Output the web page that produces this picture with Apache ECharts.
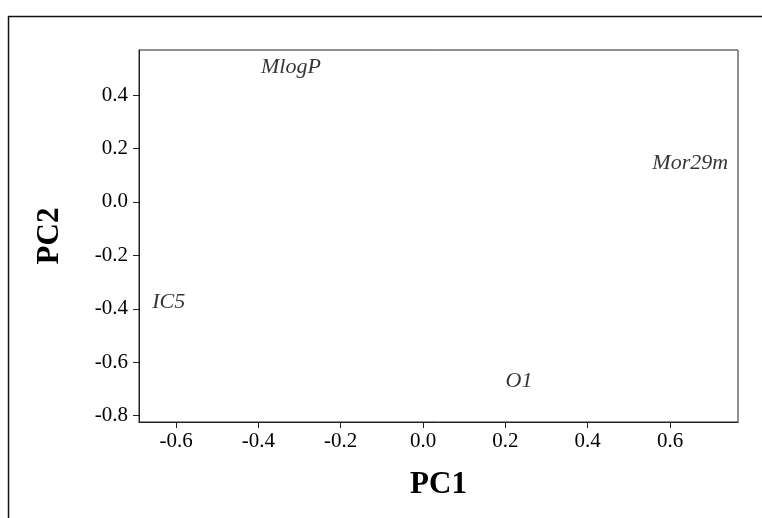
<!DOCTYPE html>
<html>
<head>
<meta charset="utf-8">
<script src="https://cdn.jsdelivr.net/npm/echarts@6/dist/echarts.min.js"></script>
<style>
html,body{margin:0;padding:0;background:#fff;}
#chart{width:762px;height:518px;}
</style>
</head>
<body>
<div id="chart"></div>
<script>
var variableNames = ['MlogP', 'Mor29m', 'IC5', 'O1'];
var pc1Values = [-0.321, 0.649, -0.618, 0.233];
var pc2Values = [0.505, 0.146, -0.377, -0.673];
var xTicks = [-0.6, -0.4, -0.2, 0.0, 0.2, 0.4, 0.6];
var yTicks = [-0.8, -0.6, -0.4, -0.2, 0.0, 0.2, 0.4];

var points = variableNames.map(function (n, i) {
  return { name: n, value: [pc1Values[i], pc2Values[i]] };
});

var chart = echarts.init(document.getElementById('chart'));
var tickFont = { fontFamily: 'Liberation Serif', fontSize: 21, color: '#000' };
chart.setOption({
  animation: false,
  backgroundColor: '#fff',
  graphic: [{
    type: 'rect', left: 6, top: 14,
    shape: { width: 800, height: 600 },
    style: { fill: 'none', stroke: '#111', lineWidth: 1.5 }
  }],
  grid: { left: 139, top: 50, right: 24, bottom: 96, show: true, borderColor: '#222', borderWidth: 1 },
  xAxis: {
    type: 'value', min: -0.69, max: 0.765,
    name: 'PC1', nameLocation: 'middle', nameGap: 47,
    nameTextStyle: { fontFamily: 'Liberation Serif', fontWeight: 'bold', fontSize: 31, color: '#000' },
    axisLine: { show: true, onZero: false, lineStyle: { color: '#222', width: 1 } },
    axisTick: { show: true, length: 6, lineStyle: { color: '#222' }, customValues: xTicks },
    axisLabel: Object.assign({ margin: 9, customValues: xTicks, formatter: function (v) { return v.toFixed(1); } }, tickFont),
    splitLine: { show: false }
  },
  yAxis: {
    type: 'value', min: -0.824, max: 0.569,
    name: 'PC2', nameLocation: 'middle', nameGap: 74, nameRotate: 90,
    nameTextStyle: { fontFamily: 'Liberation Serif', fontWeight: 'bold', fontSize: 31, color: '#000' },
    axisLine: { show: true, onZero: false, lineStyle: { color: '#222', width: 1 } },
    axisTick: { show: true, length: 6, lineStyle: { color: '#222' }, customValues: yTicks },
    axisLabel: Object.assign({ margin: 11, customValues: yTicks, formatter: function (v) { return v.toFixed(1); } }, tickFont),
    splitLine: { show: false }
  },
  series: [{
    type: 'scatter',
    symbolSize: 0,
    data: points,
    label: {
      show: true, position: 'inside',
      formatter: function (p) { return p.name; },
      fontFamily: 'Liberation Serif', fontStyle: 'italic', fontSize: 22, color: '#000'
    }
  }]
});
</script>
</body>
</html>
